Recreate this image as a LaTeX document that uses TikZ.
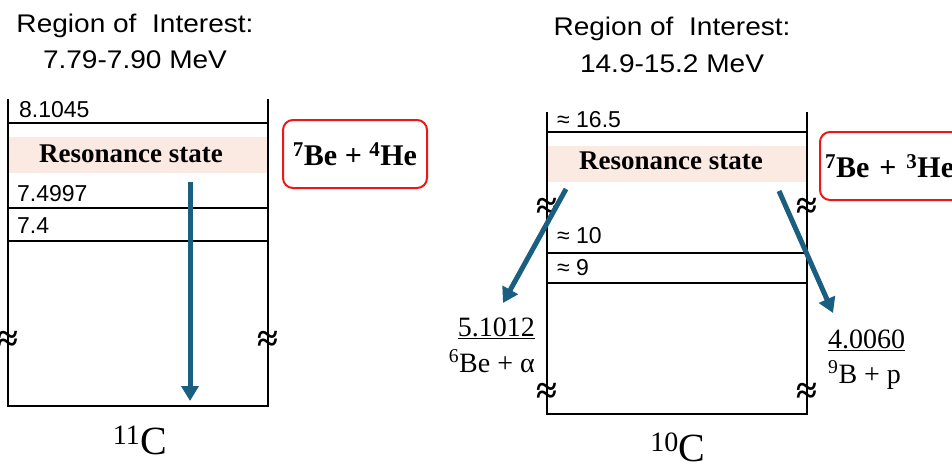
\documentclass[tikz,border=0pt]{standalone}
\usepackage{fontspec}
\setmainfont{Liberation Serif}
\newfontfamily\ttlfont[FakeStretch=1.1]{Liberation Sans}
\newfontfamily\lblfont{Liberation Sans}
\usetikzlibrary{arrows.meta}
\definecolor{arrowblue}{RGB}{26,94,128}
\definecolor{peach}{RGB}{251,234,226}
\definecolor{boxred}{RGB}{236,24,24}
\begin{document}
\begin{tikzpicture}[x=1pt,y=-1pt,
  frameline/.style={line width=2.4pt, black, line cap=rect},
  titletext/.style={font=\ttlfont\fontsize{25.5}{30}\selectfont, anchor=base, inner sep=0pt},
  lvltext/.style={font=\lblfont\fontsize{23}{27}\selectfont, anchor=base west, inner sep=0pt},
  restext/.style={font=\bfseries\fontsize{27}{30}\selectfont, anchor=base, inner sep=0pt},
  chanbox/.style={draw=boxred, line width=2pt, rounded corners=10pt, font=\bfseries\fontsize{30}{33}\selectfont, minimum height=68pt},
  decay/.style={line width=5pt, arrowblue, -{Triangle[length=15pt,width=17pt]}},
  brk/.style={font=\bfseries\fontsize{38}{38}\selectfont, inner sep=0pt},
  thrtext/.style={font=\fontsize{28}{32}\selectfont, inner sep=0pt},
  nucl/.style={font=\fontsize{40}{44}\selectfont, anchor=base, inner sep=0pt}]
\useasboundingbox (0,0) rectangle (952,464);
\clip (0,0) rectangle (952,464);

% ---------- left: 11C ----------
\node[titletext] (t1a) at (135,32) {Region of\ \ Interest:};
\node[titletext] (t1b) at (135,68) {7.79-7.90 MeV};

\fill[peach] (8,137) rectangle (268,173);
\draw[frameline] (8,100) -- (8,406) -- (268,406) -- (268,100);
\draw[frameline] (8,123) -- (268,123);
\draw[frameline] (8,208) -- (268,208);
\draw[frameline] (8,241) -- (268,241);
\node[lvltext] (l1) at (19,117) {8.1045};
\node[lvltext] (l2) at (17,201) {7.4997};
\node[lvltext] (l3) at (17,233) {7.4};
\node[restext] (r1) at (131,162) {Resonance state};
\node[brk] (k1) at (8,341) {≈};
\node[brk] (k2) at (268,341) {≈};
\node[chanbox, minimum width=144pt] (c1) at (355,154) {\textsuperscript{7}Be + \textsuperscript{4}He};
\coordinate (a1s) at (190,182);
\coordinate (a1e) at (190,401);
\draw[decay] (a1s) -- (a1e);
\node[nucl] (n1) at (140,454) {\textsuperscript{11}C};

% ---------- right: 10C ----------
\node[titletext] (t2a) at (672,35) {Region of\ \ Interest:};
\node[titletext] (t2b) at (672,72) {14.9-15.2 MeV};

\fill[peach] (547,146) rectangle (807,182);
\draw[frameline] (547,113) -- (547,414) -- (807,414) -- (807,113);
\draw[frameline] (547,132) -- (807,132);
\draw[frameline] (547,253) -- (807,253);
\draw[frameline] (547,283) -- (807,283);
\node[lvltext] (m1) at (557,127) {≈ 16.5};
\node[lvltext] (m2) at (557,243) {≈ 10};
\node[lvltext] (m3) at (557,275) {≈ 9};
\node[restext] (r2) at (671,169) {Resonance state};
\node[brk] (k3) at (547,208) {≈};
\node[brk] (k4) at (807,208) {≈};
\node[brk] (k5) at (547,393) {≈};
\node[brk] (k6) at (807,393) {≈};
\node[chanbox, anchor=west, text width=140pt, inner xsep=5pt, align=left] (c2) at (819,166) {\textsuperscript{7}Be + \textsuperscript{3}He};
\coordinate (b1s) at (566,189);
\coordinate (b1e) at (503,303);
\coordinate (b2s) at (779,191);
\coordinate (b2e) at (833,313);
\draw[decay] (b1s) -- (b1e);
\draw[decay] (b2s) -- (b2e);
\node[thrtext, anchor=base east] (d1) at (535,336) {\underline{5.1012}};
\node[thrtext, anchor=base east] (e1) at (535,372) {\textsuperscript{6}Be + α};
\node[thrtext, anchor=base west] (d2) at (828,348) {\underline{4.0060}};
\node[thrtext, anchor=base west] (e2) at (828,383) {\textsuperscript{9}B + p};
\node[nucl] (n2) at (678,461) {\textsuperscript{10}C};
\end{tikzpicture}
\end{document}
